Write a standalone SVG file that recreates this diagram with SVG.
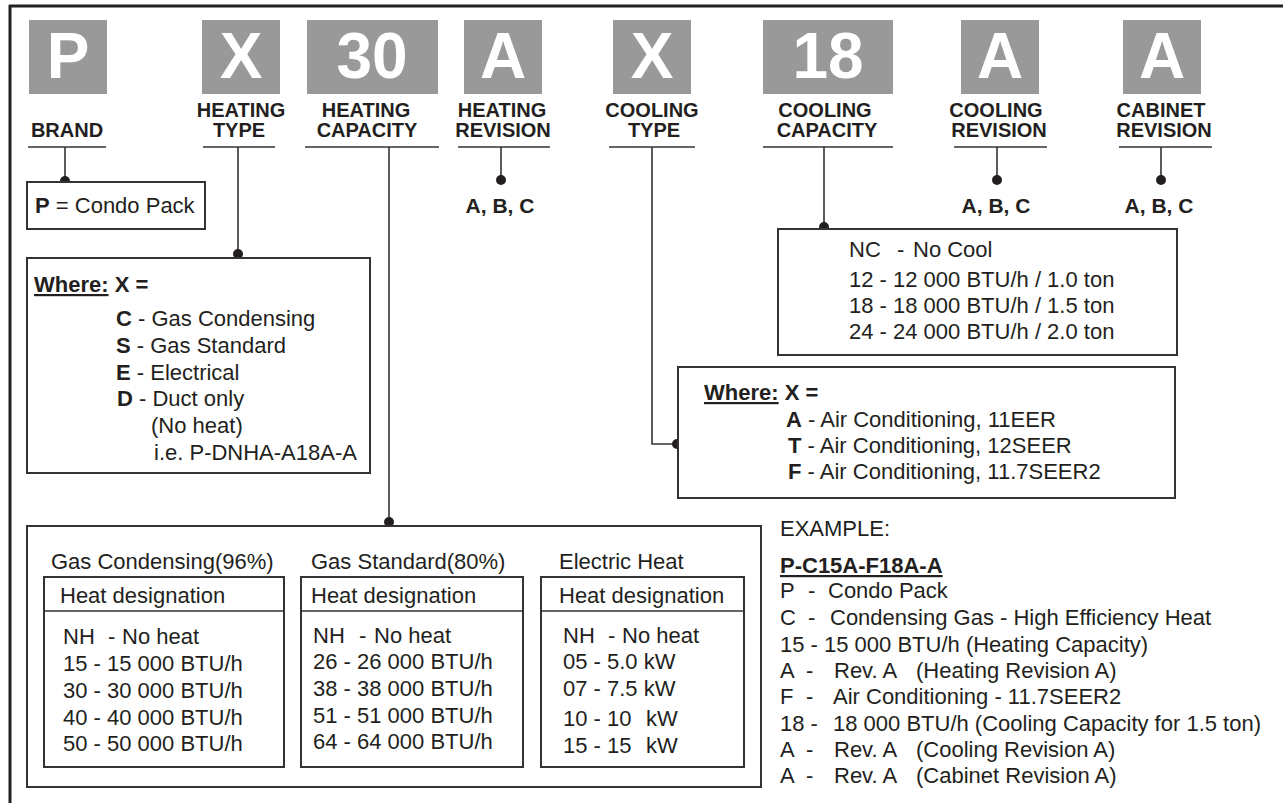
<svg xmlns="http://www.w3.org/2000/svg" width="1283" height="803" viewBox="0 0 1283 803">
<style>
text{font-family:"Liberation Sans",Arial,Helvetica,sans-serif;fill:#231f20;}
.big{font-size:64px;font-weight:bold;fill:#fff;text-anchor:middle;}
.code{fill:#999;}
.lbl{font-size:20px;font-weight:bold;text-anchor:middle;}
.abc{font-size:21px;font-weight:bold;text-anchor:middle;}
.t{font-size:22px;}
.b{font-weight:bold;}
.u{text-decoration:underline;}
.box{fill:#fff;stroke:#333;stroke-width:2;}
.ln{stroke:#333;stroke-width:1.6;fill:none;}
.dot{fill:#231f20;}
</style>
<rect width="1283" height="803" fill="#fff"/>
<g id="frame">
<line x1="9" y1="6" x2="1283" y2="6" stroke="#222" stroke-width="3"/>
<line x1="10" y1="5" x2="10" y2="803" stroke="#222" stroke-width="3"/>
</g>
<g id="code-P"><rect class="code" x="29" y="20" width="78" height="74"/><text class="big" x="68" y="78">P</text></g>
<g id="code-X1"><rect class="code" x="202" y="20" width="78" height="74"/><text class="big" x="241" y="78">X</text></g>
<g id="code-30"><rect class="code" x="307" y="20" width="131" height="74"/><text class="big" x="372" y="78">30</text></g>
<g id="code-A1"><rect class="code" x="464" y="20" width="78" height="74"/><text class="big" x="503" y="78">A</text></g>
<g id="code-X2"><rect class="code" x="613" y="20" width="78" height="74"/><text class="big" x="652" y="78">X</text></g>
<g id="code-18"><rect class="code" x="763" y="20" width="130" height="74"/><text class="big" x="828" y="78">18</text></g>
<g id="code-A2"><rect class="code" x="961" y="20" width="78" height="74"/><text class="big" x="1000" y="78">A</text></g>
<g id="code-A3"><rect class="code" x="1123" y="20" width="78" height="74"/><text class="big" x="1162" y="78">A</text></g>

<g id="label-brand"><text class="lbl" x="67" y="137">BRAND</text><line class="ln" x1="28" y1="147" x2="106" y2="147"/></g>
<g id="label-heating-type"><text class="lbl" x="241" y="117">HEATING</text><text class="lbl" x="239" y="137">TYPE</text><line class="ln" x1="203" y1="147" x2="275" y2="147"/></g>
<g id="label-heating-capacity"><text class="lbl" x="366" y="117">HEATING</text><text class="lbl" x="367" y="137">CAPACITY</text><line class="ln" x1="305" y1="147" x2="439" y2="147"/></g>
<g id="label-heating-revision"><text class="lbl" x="502" y="117">HEATING</text><text class="lbl" x="503" y="137">REVISION</text><line class="ln" x1="458" y1="147" x2="550" y2="147"/></g>
<g id="label-cooling-type"><text class="lbl" x="652" y="117">COOLING</text><text class="lbl" x="654" y="137">TYPE</text><line class="ln" x1="609" y1="147" x2="695" y2="147"/></g>
<g id="label-cooling-capacity"><text class="lbl" x="825" y="117">COOLING</text><text class="lbl" x="827" y="137">CAPACITY</text><line class="ln" x1="763" y1="147" x2="893" y2="147"/></g>
<g id="label-cooling-revision"><text class="lbl" x="996" y="117">COOLING</text><text class="lbl" x="999" y="137">REVISION</text><line class="ln" x1="954" y1="147" x2="1047" y2="147"/></g>
<g id="label-cabinet-revision"><text class="lbl" x="1161" y="117">CABINET</text><text class="lbl" x="1164" y="137">REVISION</text><line class="ln" x1="1119" y1="147" x2="1212" y2="147"/></g>

<g id="connectors">
<line class="ln" x1="65" y1="147" x2="65" y2="182"/><circle class="dot" cx="65" cy="181" r="5"/>
<line class="ln" x1="238" y1="147" x2="238" y2="254"/><circle class="dot" cx="238" cy="254" r="5"/>
<line class="ln" x1="389" y1="147" x2="389" y2="524"/><circle class="dot" cx="389" cy="522" r="5"/>
<line class="ln" x1="501" y1="147" x2="501" y2="180"/><circle class="dot" cx="501" cy="180" r="5"/>
<polyline class="ln" points="652,147 652,444 677,444"/><circle class="dot" cx="677" cy="444" r="5"/>
<line class="ln" x1="824" y1="147" x2="824" y2="228"/><circle class="dot" cx="824" cy="227" r="5"/>
<line class="ln" x1="997" y1="147" x2="997" y2="180"/><circle class="dot" cx="997" cy="180" r="5"/>
<line class="ln" x1="1161" y1="147" x2="1161" y2="180"/><circle class="dot" cx="1161" cy="180" r="5"/>
</g>

<g id="brand-box"><rect class="box" x="27" y="182" width="178" height="47"/>
<text class="t" x="35" y="213"><tspan class="b">P</tspan> = Condo Pack</text></g>

<g id="heating-revision-values"><text class="abc" x="500" y="213">A, B, C</text></g>
<g id="cooling-revision-values"><text class="abc" x="996" y="213">A, B, C</text></g>
<g id="cabinet-revision-values"><text class="abc" x="1159" y="213">A, B, C</text></g>

<g id="heating-type-box"><rect class="box" x="27" y="258" width="343" height="215"/>
<text class="t b" x="34" y="292"><tspan class="u">Where:</tspan> X =</text>
<text class="t" x="116" y="326"><tspan class="b">C</tspan> - Gas Condensing</text>
<text class="t" x="116" y="353"><tspan class="b">S</tspan> - Gas Standard</text>
<text class="t" x="116" y="380"><tspan class="b">E</tspan> - Electrical</text>
<text class="t" x="117" y="406"><tspan class="b">D</tspan> - Duct only</text>
<text class="t" x="151" y="433">(No heat)</text>
<text class="t" x="154" y="460">i.e. P-DNHA-A18A-A</text></g>

<g id="cooling-capacity-box"><rect class="box" x="778" y="229" width="399" height="126"/>
<text class="t" y="257"><tspan x="849">NC</tspan><tspan x="897">-</tspan><tspan x="913">No Cool</tspan></text>
<text class="t" x="849" y="287">12 - 12 000 BTU/h / 1.0 ton</text>
<text class="t" x="849" y="313">18 - 18 000 BTU/h / 1.5 ton</text>
<text class="t" x="849" y="339">24 - 24 000 BTU/h / 2.0 ton</text></g>

<g id="cooling-type-box"><rect class="box" x="678" y="367" width="497" height="131"/>
<text class="t b" x="704" y="400"><tspan class="u">Where:</tspan> X =</text>
<text class="t" x="786" y="427"><tspan class="b">A</tspan> - Air Conditioning, 11EER</text>
<text class="t" x="788" y="453"><tspan class="b">T</tspan> - Air Conditioning, 12SEER</text>
<text class="t" x="788" y="479"><tspan class="b">F</tspan> - Air Conditioning, 11.7SEER2</text></g>

<g id="heating-capacity-box"><rect class="box" x="27" y="526" width="734" height="261"/>
<text class="t" x="51" y="569">Gas Condensing(96%)</text>
<text class="t" x="311" y="569">Gas Standard(80%)</text>
<text class="t" x="559" y="569">Electric Heat</text>
<g id="table-gas-condensing"><rect class="box" x="44" y="577" width="240" height="190"/><line class="ln" x1="44" y1="611" x2="284" y2="611" stroke-width="2"/>
<text class="t" x="60" y="603">Heat designation</text>
<text class="t" y="644"><tspan x="63">NH</tspan><tspan x="108">-</tspan><tspan x="122">No heat</tspan></text>
<text class="t" x="63" y="671">15 - 15 000 BTU/h</text>
<text class="t" x="63" y="698">30 - 30 000 BTU/h</text>
<text class="t" x="63" y="725">40 - 40 000 BTU/h</text>
<text class="t" x="63" y="751">50 - 50 000 BTU/h</text></g>
<g id="table-gas-standard"><rect class="box" x="301" y="577" width="222" height="190"/><line class="ln" x1="301" y1="611" x2="523" y2="611" stroke-width="2"/>
<text class="t" x="311" y="603">Heat designation</text>
<text class="t" y="643"><tspan x="313">NH</tspan><tspan x="359">-</tspan><tspan x="374">No heat</tspan></text>
<text class="t" x="313" y="669">26 - 26 000 BTU/h</text>
<text class="t" x="313" y="696">38 - 38 000 BTU/h</text>
<text class="t" x="313" y="723">51 - 51 000 BTU/h</text>
<text class="t" x="313" y="749">64 - 64 000 BTU/h</text></g>
<g id="table-electric"><rect class="box" x="541" y="577" width="203" height="190"/><line class="ln" x1="541" y1="611" x2="744" y2="611" stroke-width="2"/>
<text class="t" x="559" y="603">Heat designation</text>
<text class="t" y="643"><tspan x="563">NH</tspan><tspan x="608">-</tspan><tspan x="622">No heat</tspan></text>
<text class="t" x="563" y="669">05 - 5.0 kW</text>
<text class="t" x="563" y="696">07 - 7.5 kW</text>
<text class="t" y="726"><tspan x="563">10 - 10</tspan><tspan x="646">kW</tspan></text>
<text class="t" y="753"><tspan x="563">15 - 15</tspan><tspan x="646">kW</tspan></text></g>
</g>

<g id="example">
<text class="t" x="780" y="536">EXAMPLE:</text>
<text class="t b u" x="780" y="573">P-C15A-F18A-A</text>
<text class="t" y="598"><tspan x="780">P</tspan><tspan x="808">-</tspan><tspan x="828">Condo Pack</tspan></text>
<text class="t" y="625"><tspan x="780">C</tspan><tspan x="808">-</tspan><tspan x="830">Condensing Gas - High Efficiency Heat</tspan></text>
<text class="t" x="780" y="652">15 - 15 000 BTU/h (Heating Capacity)</text>
<text class="t" y="678"><tspan x="780">A</tspan><tspan x="806">-</tspan><tspan x="834">Rev. A</tspan><tspan x="916">(Heating Revision A)</tspan></text>
<text class="t" y="704"><tspan x="780">F</tspan><tspan x="806">-</tspan><tspan x="833">Air Conditioning - 11.7SEER2</tspan></text>
<text class="t" y="731"><tspan x="780">18 -</tspan><tspan x="833">18 000 BTU/h (Cooling Capacity for 1.5 ton)</tspan></text>
<text class="t" y="757"><tspan x="780">A</tspan><tspan x="806">-</tspan><tspan x="834">Rev. A</tspan><tspan x="916">(Cooling Revision A)</tspan></text>
<text class="t" y="783"><tspan x="780">A</tspan><tspan x="806">-</tspan><tspan x="834">Rev. A</tspan><tspan x="916">(Cabinet Revision A)</tspan></text>
</g>
</svg>
